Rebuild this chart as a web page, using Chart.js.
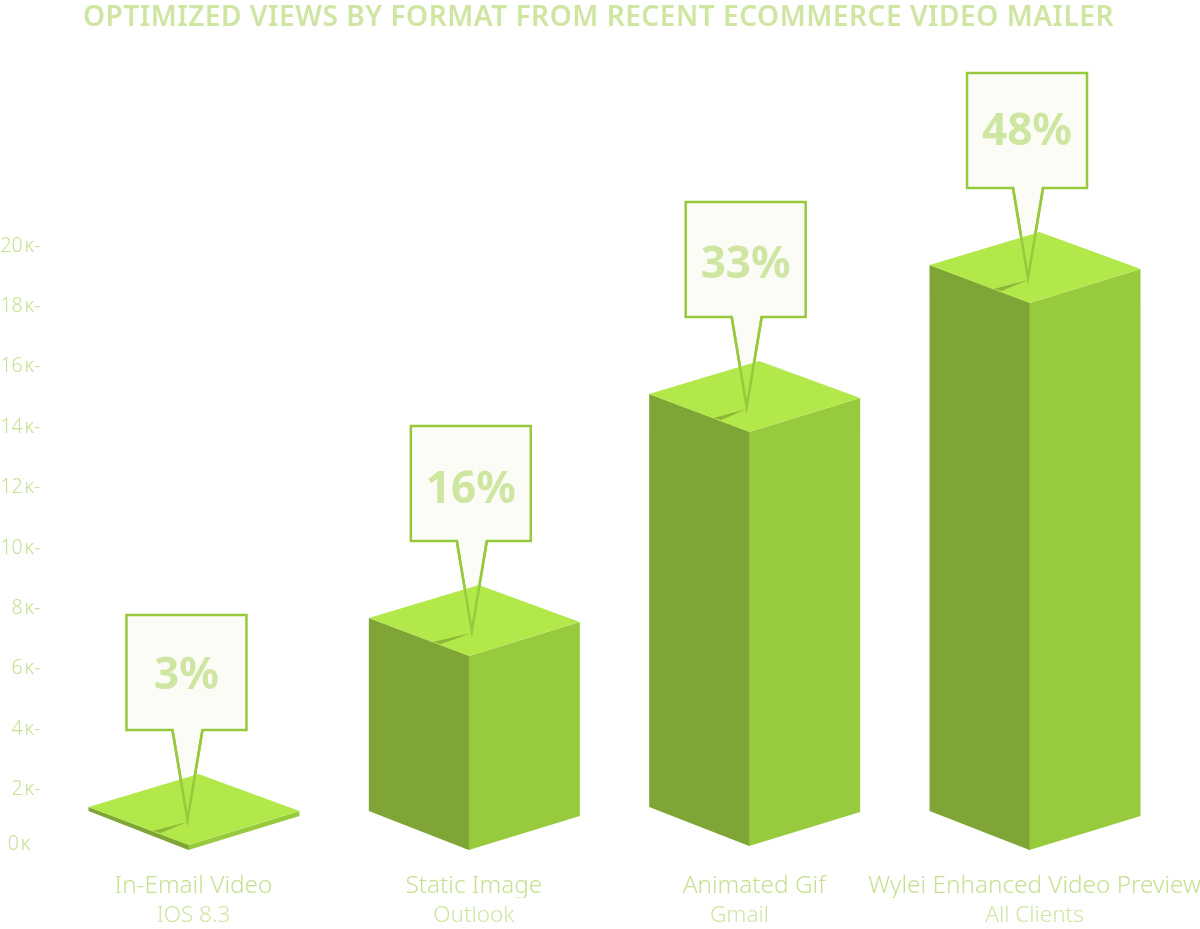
<!DOCTYPE html>
<html>
<head>
<meta charset="utf-8">
<title>Optimized views by format</title>
<script src="https://cdn.jsdelivr.net/npm/chart.js@4/dist/chart.umd.min.js"></script>
<style>
	html, body { margin: 0; padding: 0; background: #fff; }
	canvas { display: block; }
</style>
</head>
<body>
<canvas id="views_chart" width="1200" height="929"></canvas>
<script>
const categories = ["In-Email Video", "Static Image", "Animated Gif", "Wylei Enhanced Video Preview"];
const clients = ["IOS 8.3", "Outlook", "Gmail", "All Clients"];
const bar_bottoms = [0, 0, 130, 0];
const bar_tops = [165, 6420, 13840, 18110];
const percent_labels = ["3%", "16%", "33%", "48%"];
const y_tick_labels = ["0\u200Aᴋ  ", "2\u200Aᴋ-", "4\u200Aᴋ-", "6\u200Aᴋ-", "8\u200Aᴋ-", "10\u200Aᴋ-", "12\u200Aᴋ-", "14\u200Aᴋ-", "16\u200Aᴋ-", "18\u200Aᴋ-", "20\u200Aᴋ-"];

// the callouts and their labels do not sit quite centred
const callout_shift = [-2, 2, -3.5, -2.5];
const percent_shift = [1, 4, 3, -1];

const font_family = '"Noto Sans", sans-serif';
const title_color = "#cfe6a3";
const text_color = "#c6e192";
const line_color = "#97c93d";

function fill_shape(ctx, points, color) {
	ctx.beginPath();
	points.forEach(function (p, i) {
		if (i == 0) ctx.moveTo(p[0], p[1]);
		else ctx.lineTo(p[0], p[1]);
	});
	ctx.closePath();
	ctx.fillStyle = color;
	ctx.fill();
}

// box with the pointer leg, tip sits on the top face of the bar
function draw_callout(ctx, x, tip_y, label, label_shift) {
	const box_left = x - 60;
	const box_right = x + 60;
	const box_bottom = tip_y - 90;
	const box_top = box_bottom - 115;

	ctx.beginPath();
	ctx.moveTo(box_left, box_top);
	ctx.lineTo(box_right, box_top);
	ctx.lineTo(box_right, box_bottom);
	ctx.lineTo(x + 16, box_bottom);
	ctx.lineTo(x + 1, tip_y);
	ctx.lineTo(x - 14, box_bottom);
	ctx.lineTo(box_left, box_bottom);
	ctx.closePath();
	ctx.fillStyle = "#fbfcf6";
	ctx.fill();
	ctx.lineWidth = 2.5;
	ctx.strokeStyle = line_color;
	ctx.stroke();

	ctx.fillStyle = title_color;
	ctx.font = "700 44px " + font_family;
	ctx.textAlign = "center";
	ctx.textBaseline = "middle";
	ctx.fillText(label, x, (box_top + box_bottom) / 2 + 3 + label_shift);
}

const iso_bars = {
	id: "iso_bars",
	afterDatasetsDraw: function (chart) {
		const ctx = chart.ctx;
		const bars = chart.getDatasetMeta(0).data;
		ctx.save();
		bars.forEach(function (bar, i) {
			const x = bar.x - 5;
			const top = bar.y;
			const bottom = bar.base;
			const tip_y = top - 25;
			const callout_x = x + callout_shift[i];

			draw_callout(ctx, callout_x, tip_y, percent_labels[i], percent_shift[i]);

			// left face runs a little under the right one so no seam shows
			fill_shape(ctx, [[x + 1, top], [x + 1, bottom], [x, bottom], [x - 100, bottom - 39], [x - 100, top - 38]], "#7ea535");
			fill_shape(ctx, [[x, top], [x, bottom], [x + 111, bottom - 34], [x + 111, top - 34]], "#98ca3d");
			fill_shape(ctx, [[x, top], [x - 100, top - 38], [x + 10, top - 71], [x + 111, top - 34]], "#b3e84b");

			// crease under the pointer
			fill_shape(ctx, [[callout_x + 1, top - 23], [x - 36, top - 14], [x - 28, top - 12]], "#8db638");

			// pointer legs stay visible over the top face
			ctx.beginPath();
			ctx.moveTo(callout_x + 16, tip_y - 90);
			ctx.lineTo(callout_x + 1, tip_y);
			ctx.lineTo(callout_x - 14, tip_y - 90);
			ctx.lineWidth = 2.5;
			ctx.strokeStyle = line_color;
			ctx.stroke();
		});
		ctx.restore();
	},
};

const title_spacing = {
	id: "title_spacing",
	afterLayout: function (chart) {
		const title = chart.titleBlock;
		if (title.spaced) return;
		const draw_title = title.draw;
		title.spaced = true;
		title.draw = function () {
			const ctx = chart.ctx;
			ctx.save();
			ctx.letterSpacing = "0.55px";
			ctx.translate(-1.5, 0);
			draw_title.call(title);
			ctx.restore();
			ctx.letterSpacing = "0px";
		};
	},
};

new Chart(document.getElementById("views_chart"), {
	type: "bar",
	data: {
		labels: categories,
		datasets: [
			{
				data: bar_tops.map(function (top, i) {
					return [bar_bottoms[i], top];
				}),
				backgroundColor: "rgba(0,0,0,0)",
				borderWidth: 0,
			},
		],
	},
	plugins: [iso_bars, title_spacing],
	options: {
		responsive: false,
		animation: false,
		layout: { padding: 0 },
		plugins: {
			legend: { display: false },
			tooltip: { enabled: false },
			title: {
				display: true,
				text: "OPTIMIZED VIEWS BY FORMAT FROM RECENT ECOMMERCE VIDEO MAILER",
				color: title_color,
				font: { family: font_family, size: 28, weight: "600" },
				padding: { top: 1, bottom: 211.4 },
			},
		},
		scales: {
			x: {
				position: "bottom",
				grid: { display: false },
				border: { display: false },
				ticks: {
					color: text_color,
					font: { family: font_family, size: 24.3, weight: "300" },
					padding: 13,
					autoSkip: false,
					maxRotation: 0,
				},
				afterFit: function (scale) {
					scale.height = 48;
					scale.paddingLeft = 0;
					scale.paddingRight = 25.3;
				},
			},
			x_clients: {
				type: "category",
				position: "bottom",
				labels: clients,
				grid: { display: false },
				border: { display: false },
				ticks: {
					color: title_color,
					font: { family: font_family, size: 22.5, weight: "300" },
					padding: -4,
					autoSkip: false,
					maxRotation: 0,
					callback: function (value, index) {
						// Gmail sits left of its bar in the original
						if (index == 2) return clients[index] + "     ";
						return clients[index];
					},
				},
				afterFit: function (scale) {
					scale.height = 31;
					scale.paddingLeft = 0;
					scale.paddingRight = 25.3;
				},
			},
			y: {
				min: 0,
				max: 20000,
				grid: { display: false, drawTicks: false },
				border: { display: false },
				ticks: {
					stepSize: 2000,
					color: text_color,
					font: { family: font_family, size: 19.5, weight: "300", lineHeight: 0.6 },
					padding: 13,
					callback: function (value, index) {
						// second empty line lifts the zero label off the baseline
						if (index == 0) return [y_tick_labels[index], ""];
						return y_tick_labels[index];
					},
				},
				afterFit: function (scale) {
					scale.width = 53.3;
					scale.paddingTop = 0;
					scale.paddingBottom = 0;
				},
			},
		},
	},
});
</script>
</body>
</html>
